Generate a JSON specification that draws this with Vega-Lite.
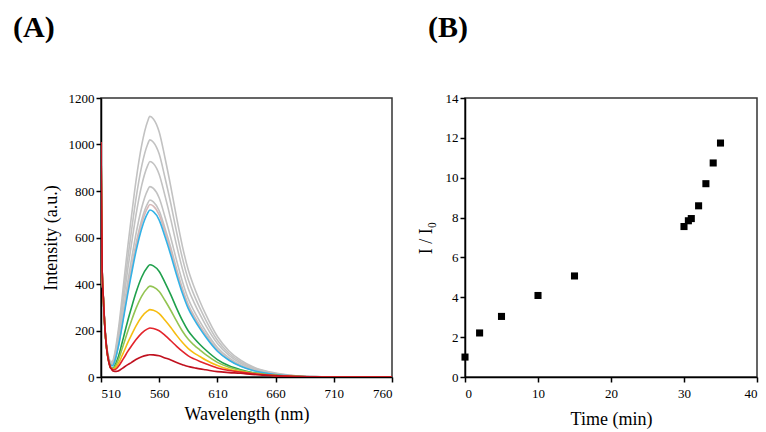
{
  "$schema": "https://vega.github.io/schema/vega-lite/v6.json",
  "background": "white",
  "padding": {"left": 12, "top": 12, "right": 0, "bottom": 0},
  "spacing": 22,
  "config": {
    "font": "Liberation Serif",
    "view": {"stroke": "#333333", "strokeWidth": 1.5},
    "style": {"guide-label": {"font": "Liberation Serif", "fontSize": 13, "fill": "#000000"}, "guide-title": {"font": "Liberation Serif", "fontSize": 18}},
    "axis": {
      "grid": false,
      "domainColor": "#000000",
      "domainWidth": 1.5,
      "tickColor": "#000000",
      "tickWidth": 1.5,
      "tickSize": 5,
      "labelFont": "Liberation Serif",
      "labelFontSize": 13,
      "labelColor": "#000000",
      "titleFont": "Liberation Serif",
      "titleFontSize": 18,
      "titleFontWeight": "normal",
      "titleColor": "#000000"
    },
    "title": {"font": "Liberation Serif", "fontSize": 30, "fontWeight": "bold", "color": "#000000", "anchor": "start", "frame": "bounds"}
  },
  "datasets": {
    "spec": [
      {"w":510,"A":1011,"B":1010,"C":1009,"D":1008,"E":1008,"F":1007,"G":1007,"H":1005,"I":1007,"J":1008,"K":1010,"L":1011},
      {"w":511,"A":463,"B":462,"C":461,"D":460,"E":459,"F":459,"G":459,"H":456,"I":458,"J":458,"K":460,"L":461},
      {"w":512,"A":346,"B":344,"C":343,"D":341,"E":341,"F":340,"G":340,"H":337,"I":338,"J":339,"K":341,"L":341},
      {"w":513,"A":248,"B":246,"C":245,"D":243,"E":242,"F":242,"G":241,"H":238,"I":239,"J":240,"K":241,"L":241},
      {"w":514,"A":175,"B":173,"C":172,"D":170,"E":169,"F":168,"G":168,"H":164,"I":165,"J":165,"K":167,"L":167},
      {"w":515,"A":127,"B":125,"C":124,"D":121,"E":120,"F":120,"G":119,"H":115,"I":116,"J":116,"K":117,"L":117},
      {"w":516,"A":98,"B":96,"C":93,"D":90,"E":89,"F":89,"G":88,"H":82,"I":83,"J":82,"K":83,"L":82},
      {"w":517,"A":79,"B":76,"C":73,"D":70,"E":68,"F":67,"G":67,"H":60,"I":60,"J":59,"K":59,"L":58},
      {"w":518,"A":66,"B":63,"C":59,"D":56,"E":54,"F":53,"G":52,"H":44,"I":44,"J":42,"K":42,"L":40},
      {"w":519,"A":67,"B":63,"C":59,"D":54,"E":52,"F":51,"G":50,"H":40,"I":39,"J":37,"K":37,"L":34},
      {"w":520,"A":69,"B":64,"C":59,"D":54,"E":51,"F":50,"G":49,"H":37,"I":35,"J":32,"K":31,"L":27},
      {"w":522,"A":107,"B":98,"C":89,"D":80,"E":75,"F":73,"G":71,"H":50,"I":44,"J":37,"K":32,"L":24},
      {"w":524,"A":170,"B":155,"C":141,"D":125,"E":116,"F":113,"G":110,"H":74,"I":63,"J":50,"K":40,"L":25},
      {"w":526,"A":247,"B":224,"C":204,"D":180,"E":167,"F":163,"G":158,"H":106,"I":88,"J":68,"K":53,"L":29},
      {"w":528,"A":336,"B":306,"C":278,"D":246,"E":228,"F":223,"G":215,"H":145,"I":119,"J":91,"K":69,"L":36},
      {"w":530,"A":426,"B":388,"C":352,"D":311,"E":289,"F":282,"G":273,"H":184,"I":150,"J":113,"K":85,"L":43},
      {"w":533,"A":561,"B":510,"C":464,"D":410,"E":381,"F":371,"G":359,"H":242,"I":197,"J":148,"K":110,"L":53},
      {"w":536,"A":684,"B":622,"C":565,"D":500,"E":464,"F":453,"G":438,"H":295,"I":240,"J":179,"K":132,"L":62},
      {"w":540,"A":841,"B":765,"C":695,"D":614,"E":571,"F":557,"G":539,"H":362,"I":294,"J":219,"K":160,"L":75},
      {"w":545,"A":998,"B":908,"C":825,"D":729,"E":677,"F":660,"G":639,"H":430,"I":348,"J":259,"K":189,"L":87},
      {"w":550,"A":1099,"B":1000,"C":908,"D":803,"E":746,"F":727,"G":704,"H":473,"I":383,"J":284,"K":207,"L":94},
      {"w":552,"A":1121,"B":1020,"C":927,"D":819,"E":761,"F":742,"G":718,"H":483,"I":391,"J":290,"K":211,"L":96},
      {"w":555,"A":1110,"B":1010,"C":918,"D":811,"E":753,"F":735,"G":711,"H":478,"I":387,"J":287,"K":209,"L":95},
      {"w":560,"A":1054,"B":959,"C":871,"D":770,"E":715,"F":697,"G":675,"H":454,"I":368,"J":273,"K":199,"L":91},
      {"w":565,"A":942,"B":857,"C":779,"D":688,"E":639,"F":623,"G":603,"H":406,"I":329,"J":244,"K":179,"L":82},
      {"w":570,"A":818,"B":745,"C":677,"D":598,"E":556,"F":542,"G":524,"H":353,"I":286,"J":213,"K":156,"L":73},
      {"w":575,"A":684,"B":622,"C":565,"D":500,"E":464,"F":453,"G":438,"H":295,"I":240,"J":179,"K":132,"L":62},
      {"w":580,"A":561,"B":510,"C":464,"D":410,"E":381,"F":371,"G":359,"H":242,"I":197,"J":148,"K":110,"L":53},
      {"w":585,"A":460,"B":418,"C":380,"D":336,"E":312,"F":304,"G":294,"H":198,"I":162,"J":122,"K":91,"L":45},
      {"w":590,"A":387,"B":352,"C":320,"D":283,"E":263,"F":256,"G":248,"H":167,"I":137,"J":103,"K":78,"L":40},
      {"w":595,"A":325,"B":296,"C":269,"D":238,"E":221,"F":215,"G":208,"H":140,"I":116,"J":88,"K":67,"L":35},
      {"w":600,"A":269,"B":245,"C":222,"D":197,"E":183,"F":178,"G":172,"H":116,"I":96,"J":73,"K":57,"L":31},
      {"w":610,"A":174,"B":158,"C":144,"D":127,"E":118,"F":115,"G":111,"H":75,"I":63,"J":49,"K":39,"L":23},
      {"w":620,"A":112,"B":102,"C":93,"D":82,"E":76,"F":74,"G":72,"H":48,"I":42,"J":33,"K":28,"L":19},
      {"w":630,"A":72,"B":65,"C":59,"D":52,"E":49,"F":47,"G":46,"H":31,"I":28,"J":23,"K":21,"L":16},
      {"w":640,"A":45,"B":41,"C":37,"D":33,"E":30,"F":30,"G":29,"H":19,"I":18,"J":15,"K":15,"L":11},
      {"w":650,"A":28,"B":26,"C":23,"D":20,"E":19,"F":19,"G":18,"H":12,"I":12,"J":10,"K":10,"L":8},
      {"w":660,"A":17,"B":15,"C":14,"D":12,"E":11,"F":11,"G":11,"H":7,"I":7,"J":6,"K":6,"L":5},
      {"w":670,"A":9,"B":8,"C":7,"D":7,"E":6,"F":6,"G":6,"H":4,"I":4,"J":4,"K":4,"L":3},
      {"w":680,"A":4,"B":4,"C":4,"D":3,"E":3,"F":3,"G":3,"H":2,"I":2,"J":2,"K":2,"L":2},
      {"w":690,"A":2,"B":2,"C":2,"D":2,"E":2,"F":1,"G":1,"H":1,"I":1,"J":1,"K":1,"L":1},
      {"w":700,"A":1,"B":1,"C":1,"D":1,"E":1,"F":1,"G":1,"H":0,"I":0,"J":0,"K":0,"L":0},
      {"w":720,"A":0,"B":0,"C":0,"D":0,"E":0,"F":0,"G":0,"H":0,"I":0,"J":0,"K":0,"L":0},
      {"w":760,"A":0,"B":0,"C":0,"D":0,"E":0,"F":0,"G":0,"H":0,"I":0,"J":0,"K":0,"L":0}
    ],
    "ratio": [
      {"t":0,"r":1.0},
      {"t":2,"r":2.21},
      {"t":5,"r":3.04},
      {"t":10,"r":4.09},
      {"t":15,"r":5.07},
      {"t":30,"r":7.55},
      {"t":30.6,"r":7.84},
      {"t":31,"r":7.95},
      {"t":32,"r":8.59},
      {"t":33,"r":9.7},
      {"t":34,"r":10.74},
      {"t":35,"r":11.74}
    ]
  },
  "hconcat": [
    {
      "width": 291,
      "height": 279,
      "title": {"text": "(A)", "dx": -29, "offset": 49},
      "data": {"name": "spec"},
      "transform": [{"fold": ["A","B","C","D","E","F","G","H","I","J","K","L"], "as": ["s","v"]}],
      "mark": {"type": "line", "strokeWidth": 1.6, "interpolate": "monotone", "clip": true},
      "encoding": {
        "x": {"field": "w", "type": "quantitative", "scale": {"domain": [510, 760], "nice": false, "zero": false},
              "axis": {"values": [510,560,610,660,710,760], "format": "d", "labelFont": "Liberation Serif", "labelPadding": 5, "title": "Wavelength (nm)", "titlePadding": 5}},
        "y": {"field": "v", "type": "quantitative", "scale": {"domain": [0, 1200], "nice": false},
              "axis": {"values": [0,200,400,600,800,1000,1200], "format": "d", "labelFont": "Liberation Serif", "title": "Intensity (a.u.)", "titlePadding": 8}},
        "color": {"field": "s", "type": "nominal", "legend": null,
                  "scale": {"domain": ["A","B","C","D","E","F","G","H","I","J","K","L"],
                            "range": ["#c2c2c2","#c2c2c2","#c2c2c2","#c2c2c2","#c2c2c2","#d6b8b8","#33b2e6","#1fa04c","#93c452","#f6bd12","#e3242b","#c0111f"]}}
      }
    },
    {
      "width": 292,
      "height": 279,
      "title": {"text": "(B)", "dx": 11, "offset": 49},
      "data": {"name": "ratio"},
      "mark": {"type": "point", "shape": "square", "filled": true, "size": 50, "color": "#000000", "opacity": 1},
      "encoding": {
        "x": {"field": "t", "type": "quantitative", "scale": {"domain": [0, 40], "nice": false},
              "axis": {"values": [0,10,20,30,40], "format": "d", "labelFont": "Liberation Serif", "labelPadding": 5, "title": "Time (min)", "titlePadding": 10}},
        "y": {"field": "r", "type": "quantitative", "scale": {"domain": [0, 14], "nice": false},
              "axis": {"values": [0,2,4,6,8,10,12,14], "format": "d", "labelFont": "Liberation Serif", "title": "I / I₀", "titlePadding": 10}}
      }
    }
  ]
}
